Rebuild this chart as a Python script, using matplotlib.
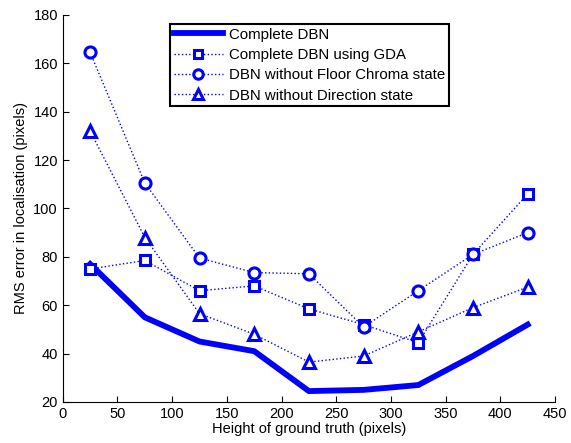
import matplotlib
matplotlib.use("Agg")
import matplotlib.pyplot as plt

plt.rcParams['font.family'] = ['Liberation Sans', 'DejaVu Sans']

heights = [25, 75, 125, 175, 225, 275, 325, 375, 425]
complete_dbn = [77, 55, 45, 41, 24.5, 25, 27, 39, 52]
dbn_gda = [75, 78.5, 66, 68, 58.5, 52, 44.5, 81, 106]
no_floor_chroma = [164.5, 110.5, 79.5, 73.5, 73, 51, 66, 81, 90]
no_direction = [132, 88, 56.5, 48, 36.5, 39, 49, 59, 67.5]

labels = ["Complete DBN", "Complete DBN using GDA",
          "DBN without Floor Chroma state", "DBN without Direction state"]

fig = plt.figure(figsize=(5.71, 4.43), dpi=100)
ax = fig.add_axes([0.110, 0.0926, 0.862, 0.8736])

blue = "#0000ff"
ax.plot(heights, complete_dbn, color=blue, lw=4.2, label=labels[0])
ax.plot(heights, dbn_gda, color=blue, ls=":", lw=1, marker="s", ms=7,
        mfc="white", mec=blue, mew=2.2, label=labels[1])
ax.plot(heights, no_floor_chroma, color=blue, ls=":", lw=1, marker="o", ms=8,
        mfc="white", mec=blue, mew=2.2, label=labels[2])
ax.plot(heights, no_direction, color=blue, ls=":", lw=1, marker="^", ms=9,
        mfc="white", mec=blue, mew=2.2, label=labels[3])

ax.set_xlim(0, 450)
ax.set_ylim(20, 180)
ax.set_xticks(range(0, 451, 50))
ax.set_yticks(range(20, 181, 20))
ax.spines['top'].set_visible(False)
ax.spines['right'].set_visible(False)
ax.tick_params(direction="in", labelsize=10.5, length=4)
ax.set_xlabel("Height of ground truth (pixels)", fontsize=10.5, labelpad=1)
ax.set_ylabel("RMS error in localisation (pixels)", fontsize=10.5, labelpad=4)

leg = ax.legend(loc="upper left", bbox_to_anchor=(0.2175, 0.977), fontsize=10.8,
                fancybox=False, framealpha=1, edgecolor="black",
                borderpad=0.25, labelspacing=0.42, handlelength=3.3,
                handletextpad=0.4, borderaxespad=0, markerscale=0.85)
leg.get_frame().set_linewidth(1.5)

fig.savefig("out.png", dpi=100)
